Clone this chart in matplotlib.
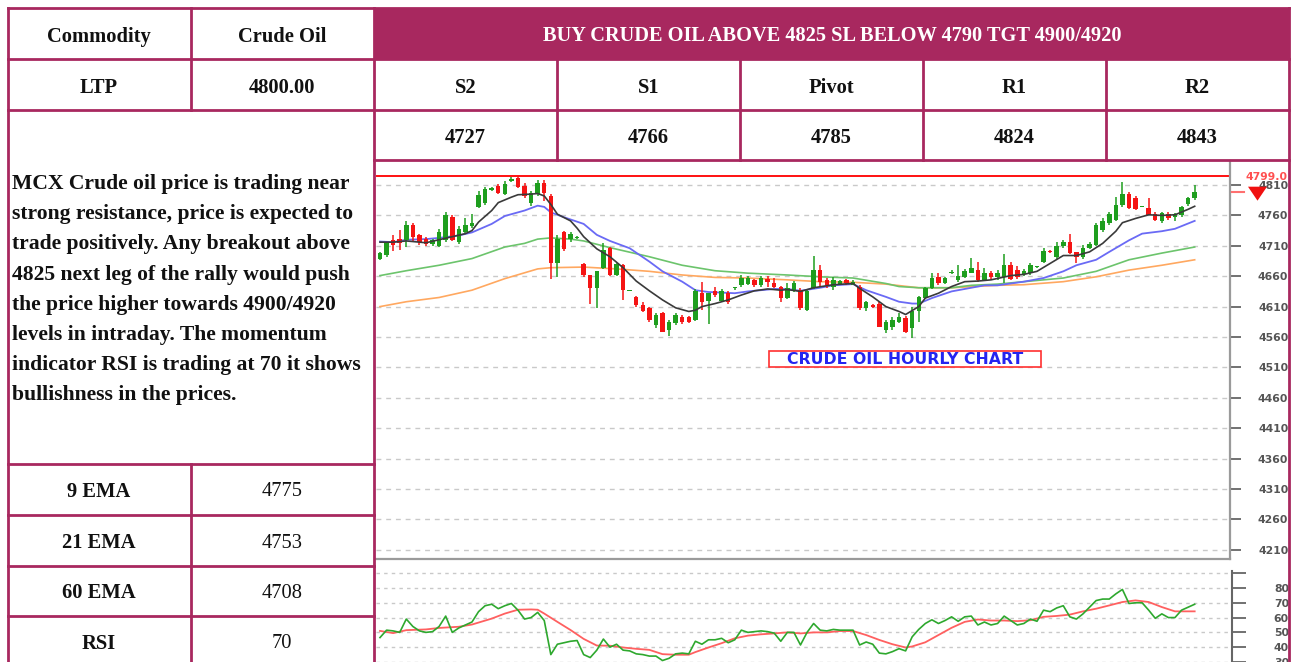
import matplotlib
matplotlib.use('Agg')
import matplotlib.pyplot as plt
from matplotlib.patches import Rectangle, Polygon
import numpy as np

W, H = 1291, 662

# ---------------- data ----------------
opens = [4689, 4695, 4720, 4722, 4720, 4744, 4728, 4721, 4713, 4710,
         4720, 4758, 4717, 4733, 4742, 4774, 4780, 4802, 4808, 4795,
         4817, 4821, 4808, 4781, 4795, 4814, 4792, 4681, 4732, 4721,
         4723, 4680, 4662, 4640, 4673, 4706, 4662, 4678, 4636, 4626,
         4613, 4607, 4580, 4599, 4572, 4583, 4593, 4593, 4588, 4632,
         4619, 4636, 4619, 4633, 4640, 4645, 4647, 4654, 4645, 4656,
         4648, 4643, 4624, 4637, 4637, 4605, 4640, 4670, 4654, 4643,
         4647, 4654, 4646, 4643, 4608, 4613, 4615, 4572, 4577, 4585,
         4591, 4574, 4602, 4624, 4640, 4659, 4648, 4665, 4654, 4659,
         4665, 4670, 4654, 4665, 4658, 4659, 4679, 4670, 4663, 4665,
         4675, 4684, 4702, 4692, 4709, 4716, 4699, 4692, 4707, 4712,
         4736, 4748, 4752, 4777, 4796, 4788, 4774, 4772, 4763, 4751,
         4762, 4757, 4761, 4778, 4789]
highs = [4700, 4717, 4728, 4736, 4750, 4747, 4730, 4724, 4722, 4737,
         4765, 4761, 4742, 4756, 4762, 4800, 4807, 4806, 4812, 4816,
         4823, 4824, 4813, 4800, 4819, 4819, 4795, 4727, 4735, 4732,
         4726, 4681, 4662, 4669, 4714, 4708, 4682, 4680, 4638, 4628,
         4618, 4610, 4599, 4601, 4588, 4600, 4596, 4595, 4639, 4651,
         4633, 4643, 4639, 4635, 4643, 4662, 4660, 4656, 4660, 4660,
         4657, 4644, 4648, 4652, 4640, 4637, 4694, 4678, 4657, 4658,
         4654, 4656, 4653, 4646, 4620, 4614, 4617, 4588, 4593, 4599,
         4594, 4610, 4628, 4643, 4665, 4665, 4659, 4670, 4678, 4672,
         4690, 4683, 4673, 4668, 4670, 4696, 4683, 4676, 4672, 4682,
         4677, 4706, 4703, 4716, 4719, 4729, 4700, 4712, 4716, 4747,
         4755, 4766, 4791, 4815, 4798, 4792, 4776, 4788, 4765, 4766,
         4765, 4764, 4776, 4790, 4810]
lows = [4687, 4692, 4702, 4703, 4708, 4716, 4711, 4709, 4710, 4708,
        4716, 4718, 4713, 4731, 4739, 4772, 4777, 4800, 4795, 4794,
        4815, 4805, 4789, 4776, 4792, 4783, 4656, 4659, 4702, 4716,
        4722, 4658, 4614, 4608, 4672, 4660, 4660, 4621, 4635, 4610,
        4601, 4585, 4574, 4569, 4561, 4580, 4582, 4583, 4586, 4604,
        4581, 4626, 4617, 4614, 4638, 4642, 4645, 4643, 4642, 4643,
        4640, 4617, 4622, 4634, 4604, 4602, 4639, 4643, 4640, 4637,
        4645, 4646, 4645, 4604, 4603, 4607, 4576, 4566, 4572, 4583,
        4566, 4558, 4585, 4623, 4639, 4646, 4647, 4663, 4651, 4657,
        4665, 4651, 4653, 4655, 4654, 4648, 4654, 4656, 4660, 4662,
        4674, 4682, 4698, 4689, 4706, 4696, 4682, 4688, 4705, 4710,
        4733, 4745, 4750, 4774, 4770, 4769, 4773, 4760, 4750, 4747,
        4753, 4751, 4758, 4775, 4786]
closes = [4698, 4714, 4712, 4714, 4744, 4725, 4717, 4713, 4720, 4733,
          4760, 4720, 4738, 4744, 4747, 4793, 4804, 4805, 4797, 4812,
          4820, 4807, 4792, 4797, 4814, 4797, 4681, 4721, 4705, 4729,
          4725, 4662, 4640, 4668, 4703, 4662, 4680, 4637, 4637, 4613,
          4602, 4588, 4596, 4569, 4585, 4597, 4584, 4585, 4635, 4618,
          4632, 4629, 4635, 4618, 4642, 4657, 4657, 4645, 4657, 4650,
          4643, 4624, 4640, 4648, 4607, 4635, 4670, 4651, 4646, 4654,
          4652, 4648, 4651, 4607, 4618, 4609, 4577, 4585, 4588, 4593,
          4569, 4602, 4626, 4640, 4657, 4648, 4657, 4667, 4660, 4669,
          4673, 4654, 4665, 4658, 4665, 4678, 4656, 4659, 4668, 4678,
          4676, 4701, 4699, 4709, 4717, 4698, 4692, 4707, 4713, 4744,
          4750, 4762, 4777, 4796, 4772, 4771, 4775, 4761, 4752, 4764,
          4756, 4762, 4774, 4788, 4799]

ema9_idx = [0, 2, 4, 7, 9, 11, 13, 14, 15, 17, 18, 20, 21, 23, 24, 25, 26, 27, 29,
            30, 31, 33, 35, 37, 39, 41, 43, 45, 47, 48, 49, 51, 53, 55, 57, 59, 61,
            62, 64, 66, 69, 72, 73, 75, 77, 79, 80, 82, 83, 85, 87, 89, 91, 93, 96,
            98, 100, 102, 104, 106, 108, 110, 112, 113, 115, 117, 119, 121, 123, 124]
ema9_val = [4716, 4716, 4718, 4715, 4720, 4725, 4730, 4735, 4749, 4768, 4781, 4790,
            4794, 4795, 4796, 4792, 4778, 4762, 4751, 4739, 4725, 4705, 4692, 4674,
            4652, 4636, 4621, 4608, 4602, 4604, 4610, 4615, 4621, 4629, 4636, 4639,
            4637, 4638, 4635, 4641, 4646, 4648, 4640, 4626, 4610, 4602, 4597, 4610,
            4624, 4632, 4643, 4651, 4652, 4654, 4661, 4663, 4668, 4681, 4694, 4694,
            4700, 4714, 4734, 4748, 4755, 4761, 4760, 4761, 4770, 4775]

ema21_idx = [0, 2, 4, 7, 9, 12, 14, 17, 19, 22, 24, 25, 26, 28, 31, 33, 35, 38, 41,
             43, 46, 48, 50, 52, 54, 56, 58, 60, 62, 64, 67, 69, 72, 74, 77, 79, 81,
             82, 84, 87, 90, 92, 94, 96, 98, 101, 104, 106, 109, 111, 114, 116, 119,
             121, 124]
ema21_val = [4717, 4716, 4720, 4721, 4723, 4727, 4732, 4746, 4759, 4768, 4776, 4774,
             4765, 4757, 4746, 4728, 4718, 4706, 4684, 4668, 4651, 4637, 4634, 4633,
             4632, 4635, 4637, 4639, 4639, 4636, 4641, 4645, 4647, 4637, 4626, 4618,
             4615, 4615, 4624, 4635, 4641, 4645, 4645, 4648, 4651, 4657, 4668, 4678,
             4687, 4700, 4719, 4730, 4734, 4738, 4751]

ema60_idx = [0, 4, 9, 14, 19, 22, 24, 26, 29, 31, 35, 41, 46, 51, 56, 62, 67, 72,
             77, 79, 82, 87, 90, 94, 98, 101, 104, 109, 114, 119, 124]
ema60_val = [4661, 4669, 4678, 4689, 4708, 4714, 4721, 4723, 4721, 4718, 4707, 4692,
             4678, 4669, 4665, 4662, 4659, 4657, 4648, 4643, 4641, 4641, 4645, 4647,
             4651, 4654, 4657, 4668, 4687, 4698, 4708]

ema_long_idx = [0, 4, 9, 14, 19, 24, 26, 31, 36, 41, 46, 51, 56, 62, 67, 72, 77, 82,
                87, 94, 98, 104, 109, 114, 119, 124]
ema_long_val = [4610, 4618, 4625, 4637, 4656, 4672, 4674, 4675, 4672, 4668, 4662,
                4658, 4657, 4654, 4651, 4650, 4647, 4641, 4641, 4645, 4646, 4651,
                4659, 4670, 4678, 4687]

rsi_vals = [46.5, 51.5, 51, 50, 59, 54, 51, 50, 50.5, 54,
            61, 50, 53, 55, 57, 64, 68, 69, 66, 68,
            69.5, 65, 59, 60, 63.5, 58, 35, 42, 43, 44,
            44.5, 35, 33, 38, 45.5, 40, 42, 38, 37.5, 35.5,
            35, 34, 34, 31, 32.5, 35.5, 36, 35.5, 44, 42,
            45, 45, 46, 43, 45, 51.5, 50, 50.5, 51, 50.5,
            49.5, 44, 50, 50, 41.5, 50, 56, 51.5, 51, 52,
            51.5, 51.5, 51.5, 41.5, 43.5, 42, 36, 35.5, 37, 39,
            37.5, 47, 52, 56, 58.5, 56, 58, 60.5, 57.5, 60.5,
            61, 55, 57, 55, 56, 61, 58, 55, 56, 59,
            57.5, 65, 64, 66.5, 68, 60.5, 59, 62.5, 67, 71.5,
            72.5, 72.5, 76, 79, 69.5, 70, 70, 65, 59.5, 62.5,
            60, 60, 65, 67, 69]
rsi_sig_idx = [0, 2, 4, 7, 9, 12, 14, 17, 19, 21, 23, 24, 25, 27, 29, 31, 33, 35,
               37, 39, 41, 43, 45, 47, 48, 50, 52, 54, 56, 58, 60, 62, 64, 66, 68,
               70, 72, 74, 76, 78, 80, 81, 83, 85, 87, 89, 91, 93, 95, 97, 99, 101,
               103, 105, 107, 109, 111, 113, 115, 117, 119, 121, 123, 124]
rsi_sig_val = [51, 49.5, 51.5, 52, 53, 53.8, 55.3, 59.3, 62.7, 65.3, 65.5, 65.3,
               62.7, 57.1, 51.6, 45.6, 41.1, 41, 39.8, 38.9, 38.2, 35.3, 34.9, 34.9,
               36.7, 39.8, 42.7, 46, 47.8, 48.7, 49.3, 50, 49.3, 50, 50, 50.9, 50.9,
               48.2, 44.9, 42, 39.8, 40.5, 43.3, 48.2, 53.1, 57.1, 58.7, 58, 58,
               57.6, 58.2, 60.5, 61.1, 62, 64.2, 66, 68.2, 70.5, 71.6, 70.5, 67.1,
               64.2, 64.2, 64.2]

price_ticks = [4810, 4760, 4710, 4660, 4610, 4560, 4510, 4460, 4410, 4360, 4310, 4260, 4210]
rsi_ticks = [90, 80, 70, 60, 50, 40, 30]
rsi_tick_labels = ['', '80', '70', '60', '50', '40', '30']
entry_level = 4825
last_price = 4799
last_price_label = '4799.0'

headline = 'BUY CRUDE OIL ABOVE 4825 SL BELOW 4790 TGT 4900/4920'
commodity = 'Crude Oil'
ltp = '4800.00'
level_names = ['S2', 'S1', 'Pivot', 'R1', 'R2']
level_values = ['4727', '4766', '4785', '4824', '4843']
ind_names = ['9 EMA', '21 EMA', '60 EMA', 'RSI']
ind_values = ['4775', '4753', '4708', '70']
paragraph = ['MCX Crude oil price is trading near',
             'strong resistance, price is expected to',
             'trade positively. Any breakout above',
             '4825 next leg of the rally would push',
             'the price higher towards 4900/4920',
             'levels in intraday. The momentum',
             'indicator RSI is trading at 70 it shows',
             'bullishness in the prices.']
chart_title = 'CRUDE OIL HOURLY CHART'

# ---------------- layout helpers ----------------
MAG = '#A8285F'
SERIF = 'Liberation Serif'
GREEN = '#1E9E1E'
RED = '#F51414'

def rect(x0, y0, x1, y1):
    return [x0 / W, 1 - y1 / H, (x1 - x0) / W, (y1 - y0) / H]

# pixel mapping of the chart image
X0_PX, DX_PX = 380.0, 6.57
Y4810_PX, PX_PER_50 = 185.0, 30.4

def val_at(ypx):
    return 4810 - (ypx - Y4810_PX) * 50 / PX_PER_50

def idx_at(xpx):
    return (xpx - X0_PX) / DX_PX

def rsi_at(ypx):
    return 80 - (ypx - 588.3) / 1.5

fig = plt.figure(figsize=(W / 100, H / 100), dpi=100)
fig.patch.set_facecolor('white')

# ---------------- price pane ----------------
ax = fig.add_axes(rect(376, 161, 1230, 559))
ax.set_xlim(idx_at(376), idx_at(1230))
ax.set_ylim(val_at(559), val_at(161))
for t in price_ticks:
    ax.axhline(t, color='#C9C9C9', lw=1.0, dashes=(3.5, 3.5), zorder=1)
ax.axhline(entry_level, color='#FF1010', lw=1.4, zorder=2)

ax.plot(ema_long_idx, ema_long_val, color='#FFA860', lw=1.2, zorder=3)
ax.plot(ema60_idx, ema60_val, color='#6CC46C', lw=1.2, zorder=3)
ax.plot(ema21_idx, ema21_val, color='#6A6AF5', lw=1.3, zorder=3)

o = np.array(opens, float); c = np.array(closes, float)
hi = np.array(highs, float); lo = np.array(lows, float)
xs = np.arange(len(o))
cols = [GREEN if cc >= oo else RED for oo, cc in zip(o, c)]
ax.vlines(xs, lo, hi, colors=cols, lw=1.1, zorder=4)
body_bottom = np.minimum(o, c)
body_h = np.maximum(np.abs(c - o), 2.0)
ax.bar(xs, body_h, bottom=body_bottom, width=0.68, color=cols, linewidth=0, zorder=5)

ax.plot(ema9_idx, ema9_val, color='#3A3A3A', lw=1.2, zorder=6)

for s in ['left', 'top']:
    ax.spines[s].set_visible(False)
for s in ['right', 'bottom']:
    ax.spines[s].set_color('#9A9A9A')
    ax.spines[s].set_linewidth(1.6)
ax.set_xticks([])
ax.yaxis.tick_right()
ax.set_yticks(price_ticks)
ax.set_yticklabels([str(t) for t in price_ticks])
ax.tick_params(axis='y', direction='out', length=8, width=1.3, color='#666666',
               pad=34, labelsize=7.8, labelcolor='#555555')
for lbl in ax.get_yticklabels():
    lbl.set_ha('right')
    lbl.set_fontweight('bold')

# ---------------- RSI pane ----------------
ar = fig.add_axes(rect(376, 561, 1232, 662))
ar.set_xlim(idx_at(376), idx_at(1232))
ar.set_ylim(rsi_at(662), rsi_at(561))
for t in rsi_ticks:
    ar.axhline(t, color='#C9C9C9', lw=1.0, dashes=(2.5, 3), zorder=1)
ar.plot(rsi_sig_idx, rsi_sig_val, color='#FF6060', lw=1.3, zorder=3)
ar.plot(np.arange(len(rsi_vals)), rsi_vals, color='#2EA82E', lw=1.2, zorder=4)
for s in ['left', 'top', 'bottom']:
    ar.spines[s].set_visible(False)
ar.spines['right'].set_color('#666666')
ar.spines['right'].set_linewidth(1.5)
ar.spines['right'].set_bounds(rsi_at(662), rsi_at(571))
ar.set_xticks([])
ar.yaxis.tick_right()
ar.set_yticks(rsi_ticks)
ar.set_yticklabels(rsi_tick_labels)
ar.tick_params(axis='y', direction='out', length=10, width=1.3, color='#666666',
               pad=31, labelsize=7.8, labelcolor='#555555')
for lbl in ar.get_yticklabels():
    lbl.set_ha('right')
    lbl.set_fontweight('bold')

# ---------------- overlay: table ----------------
ov = fig.add_axes([0, 0, 1, 1], zorder=10)
ov.set_xlim(0, W); ov.set_ylim(H, 0); ov.axis('off')
ov.patch.set_alpha(0)

# chart title box
ov.add_patch(Rectangle((769, 351), 1041 - 769, 367 - 351, fc='white', ec='#FF3030', lw=1.2))
ov.text(905, 359.5, chart_title, ha='center', va='center', color='#2424F0',
        fontsize=11.3, fontweight='bold', family='DejaVu Sans')

ov.add_patch(Rectangle((374, 8), 1289 - 374, 59 - 8, fc=MAG, ec='none'))
lw = 2.0
def hl(y, x0, x1):
    ov.plot([x0, x1], [y, y], color=MAG, lw=lw, solid_capstyle='projecting')
def vl(x, y0, y1):
    ov.plot([x, x], [y0, y1], color=MAG, lw=lw, solid_capstyle='projecting')

hl(8, 8, 1289)
hl(59, 8, 1289)
hl(110, 8, 1289)
hl(160, 374, 1289)
for y in [464, 515, 566, 616]:
    hl(y, 8, 374)
vl(8, 8, 662)
vl(374, 8, 662)
vl(1289, 8, 662)
vl(190.5, 8, 110)
vl(190.5, 464, 662)
for x in [557, 740, 923, 1106]:
    vl(x, 59, 160)

fs = 14.8
tk = dict(family=SERIF, fontsize=fs, ha='center', va='center', color='#111111')
dy = 2
ov.text(99, 35 + dy, 'Commodity', fontweight='bold', **tk)
ov.text(282, 35 + dy, commodity, fontweight='bold', **tk)
ov.text(99, 86 + dy, 'LTP', fontweight='bold', **tk)
ov.text(282, 86 + dy, ltp, fontweight='bold', **tk)
ov.text(832, 34 + dy, headline, family=SERIF, fontsize=14.7, fontweight='bold',
        ha='center', va='center', color='white')
col_x = [465.5, 648.5, 831.5, 1014.5, 1197.5]
for cx, nm, vv in zip(col_x, level_names, level_values):
    ov.text(cx, 86 + dy, nm, fontweight='bold', **tk)
    ov.text(cx, 136 + dy, vv, fontweight='bold', **tk)
row_y = [490, 541, 591, 642]
for ry, nm, vv in zip(row_y, ind_names, ind_values):
    ov.text(99, ry + dy, nm, fontweight='bold', **tk)
    ov.text(282, ry + dy, vv, **tk)
for k, line in enumerate(paragraph):
    ov.text(12, 182 + dy + 30.2 * k, line, family=SERIF, fontsize=15.6,
            fontweight='bold', ha='left', va='center', color='#111111')

# last price marker
ov.text(1245, 177, last_price_label, family='DejaVu Sans', fontsize=7.8,
        fontweight='bold', color='#FF5050', ha='left', va='center', zorder=1)
yl = Y4810_PX + (4810 - last_price) * PX_PER_50 / 50
ov.plot([1232, 1244], [yl, yl], color='#FF7070', lw=1.5)
ov.add_patch(Polygon([[1248, yl - 5], [1267, yl - 5], [1257.5, yl + 9]],
                     closed=True, fc='#F01010', ec='none'))

fig.savefig('out.png', dpi=100, facecolor='white')
